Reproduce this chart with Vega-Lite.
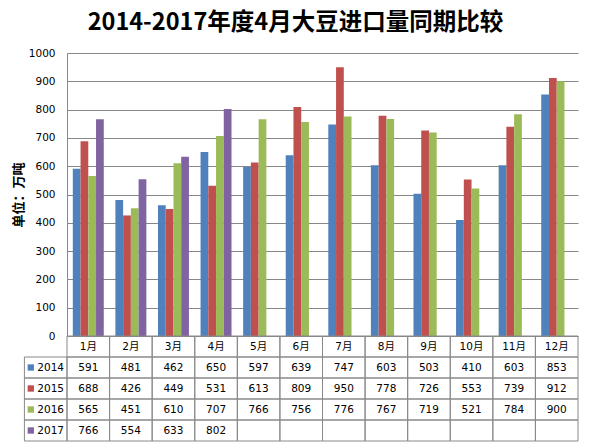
{
  "$schema": "https://vega.github.io/schema/vega-lite/v6.json",
  "padding": {"left": 12, "top": 10, "right": 8, "bottom": 4},
  "title": {"text": "2014-2017年度4月大豆进口量同期比较", "font": "Noto Sans CJK SC", "fontSize": 23.5, "fontWeight": "bold", "color": "black", "anchor": "middle", "frame": "bounds", "offset": 14},
  "config": {"view": {"stroke": null}},
  "datasets": {
    "imp": [
      {"month": "1月", "year": "2014", "value": 591}, {"month": "2月", "year": "2014", "value": 481}, {"month": "3月", "year": "2014", "value": 462}, {"month": "4月", "year": "2014", "value": 650},
      {"month": "5月", "year": "2014", "value": 597}, {"month": "6月", "year": "2014", "value": 639}, {"month": "7月", "year": "2014", "value": 747}, {"month": "8月", "year": "2014", "value": 603},
      {"month": "9月", "year": "2014", "value": 503}, {"month": "10月", "year": "2014", "value": 410}, {"month": "11月", "year": "2014", "value": 603}, {"month": "12月", "year": "2014", "value": 853},
      {"month": "1月", "year": "2015", "value": 688}, {"month": "2月", "year": "2015", "value": 426}, {"month": "3月", "year": "2015", "value": 449}, {"month": "4月", "year": "2015", "value": 531},
      {"month": "5月", "year": "2015", "value": 613}, {"month": "6月", "year": "2015", "value": 809}, {"month": "7月", "year": "2015", "value": 950}, {"month": "8月", "year": "2015", "value": 778},
      {"month": "9月", "year": "2015", "value": 726}, {"month": "10月", "year": "2015", "value": 553}, {"month": "11月", "year": "2015", "value": 739}, {"month": "12月", "year": "2015", "value": 912},
      {"month": "1月", "year": "2016", "value": 565}, {"month": "2月", "year": "2016", "value": 451}, {"month": "3月", "year": "2016", "value": 610}, {"month": "4月", "year": "2016", "value": 707},
      {"month": "5月", "year": "2016", "value": 766}, {"month": "6月", "year": "2016", "value": 756}, {"month": "7月", "year": "2016", "value": 776}, {"month": "8月", "year": "2016", "value": 767},
      {"month": "9月", "year": "2016", "value": 719}, {"month": "10月", "year": "2016", "value": 521}, {"month": "11月", "year": "2016", "value": 784}, {"month": "12月", "year": "2016", "value": 900},
      {"month": "1月", "year": "2017", "value": 766}, {"month": "2月", "year": "2017", "value": 554}, {"month": "3月", "year": "2017", "value": 633}, {"month": "4月", "year": "2017", "value": 802},
      {"month": "5月", "year": "2017", "value": null}, {"month": "6月", "year": "2017", "value": null}, {"month": "7月", "year": "2017", "value": null}, {"month": "8月", "year": "2017", "value": null},
      {"month": "9月", "year": "2017", "value": null}, {"month": "10月", "year": "2017", "value": null}, {"month": "11月", "year": "2017", "value": null}, {"month": "12月", "year": "2017", "value": null}
    ]
  },
  "spacing": 0,
  "bounds": "flush",
  "vconcat": [
    {
      "width": 511,
      "height": 283,
      "data": {"name": "imp"},
      "mark": {"type": "bar"},
      "encoding": {
        "x": {"field": "month", "type": "nominal", "sort": ["1月","2月","3月","4月","5月","6月","7月","8月","9月","10月","11月","12月"], "scale": {"paddingInner": 0, "paddingOuter": 0}, "axis": null},
        "xOffset": {"field": "year", "type": "nominal", "scale": {"domain": ["2014","2015","2016","2017"], "paddingInner": 0, "paddingOuter": 0.75}},
        "y": {"field": "value", "type": "quantitative", "scale": {"domain": [0, 1000], "nice": false},
          "axis": {"values": [0,100,200,300,400,500,600,700,800,900,1000], "format": "d", "title": "单位：万吨", "titleFont": "Noto Sans CJK SC", "titleFontWeight": "bold", "titleFontSize": 13, "titleColor": "black", "titlePadding": 3,
            "labelFont": "DejaVu Sans", "labelFontSize": 10.5, "labelColor": "black", "labelPadding": 12, "ticks": false, "grid": true, "gridColor": "#878787", "gridOpacity": 1, "domainColor": "#878787"}},
        "color": {"field": "year", "type": "nominal", "scale": {"domain": ["2014","2015","2016","2017"], "range": ["#4F81BD","#C0504D","#9BBB59","#8064A2"]}, "legend": null}
      }
    },
    {
      "width": 511,
      "height": 105,
      "data": {"name": "imp"},
      "encoding": {
        "x": {"field": "month", "type": "nominal", "scale": {"domain": ["label","1月","2月","3月","4月","5月","6月","7月","8月","9月","10月","11月","12月"], "range": [-42.583, 511], "paddingInner": 0, "paddingOuter": 0}, "axis": null},
        "y": {"field": "year", "type": "nominal", "scale": {"domain": ["hdr","2014","2015","2016","2017"], "paddingInner": 0, "paddingOuter": 0}, "axis": null}
      },
      "layer": [
        {"mark": {"type": "rect", "filled": false, "stroke": "#898989", "strokeWidth": 1}},
        {"transform": [{"filter": "datum.year === '2014'"}], "mark": {"type": "rect", "filled": false, "stroke": "#898989", "strokeWidth": 1},
          "encoding": {"y": {"datum": "hdr", "type": "nominal"}}},
        {"transform": [{"filter": "datum.month === '1月'"}], "mark": {"type": "rect", "filled": false, "stroke": "#898989", "strokeWidth": 1},
          "encoding": {"x": {"datum": "label", "type": "nominal"}}},
        {"transform": [{"filter": "datum.value != null"}], "mark": {"type": "text", "font": "DejaVu Sans", "fontSize": 10.5, "color": "black"},
          "encoding": {"text": {"field": "value", "type": "quantitative"}}},
        {"transform": [{"filter": "datum.year === '2014'"}], "mark": {"type": "text", "font": "DejaVu Sans, Noto Sans CJK SC", "fontSize": 10.5, "color": "black"},
          "encoding": {"y": {"datum": "hdr", "type": "nominal"}, "text": {"field": "month", "type": "nominal"}}},
        {"transform": [{"filter": "datum.month === '1月'"}], "mark": {"type": "point", "shape": "square", "filled": true, "size": 40, "opacity": 1},
          "encoding": {"x": {"datum": "label", "type": "nominal", "bandPosition": 0.15},
            "color": {"field": "year", "type": "nominal", "scale": {"domain": ["2014","2015","2016","2017"], "range": ["#4F81BD","#C0504D","#9BBB59","#8064A2"]}, "legend": null}}},
        {"transform": [{"filter": "datum.month === '1月'"}], "mark": {"type": "text", "font": "DejaVu Sans", "fontSize": 10.5, "color": "black", "align": "right"},
          "encoding": {"x": {"datum": "label", "type": "nominal", "bandPosition": 0.93}, "text": {"field": "year", "type": "nominal"}}}
      ]
    }
  ]
}
